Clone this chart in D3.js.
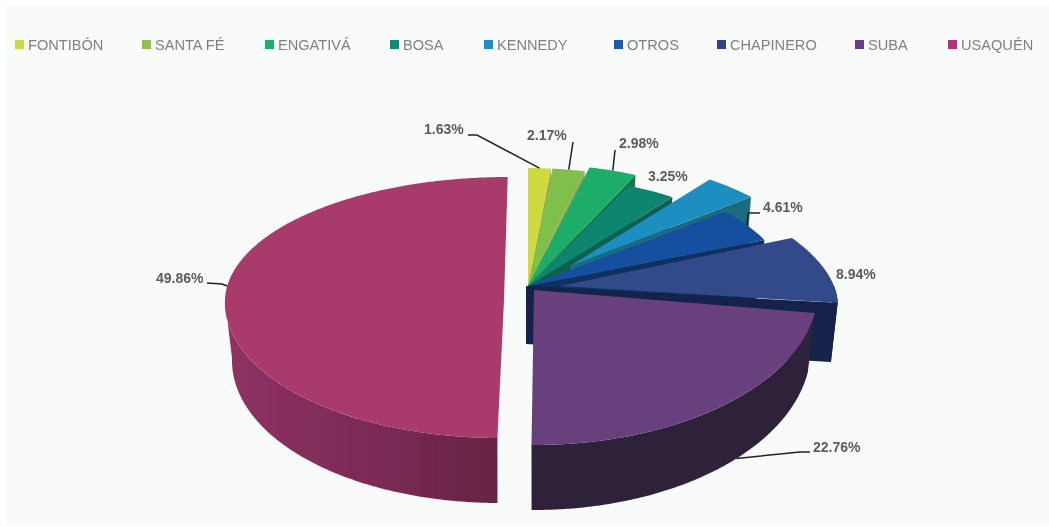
<!DOCTYPE html>
<html>
<head>
<meta charset="utf-8">
<script src="https://cdn.jsdelivr.net/npm/d3@7"></script>
<style>
html, body { margin: 0; padding: 0; background: #fff; }
svg { display: block; }
</style>
</head>
<body>
<svg id="plot" width="1049" height="527"></svg>
<script>
// data (kennedy has no label, it is what is left of 100)
var categories = ['FONTIBÓN', 'SANTA FÉ', 'ENGATIVÁ', 'BOSA', 'KENNEDY', 'OTROS', 'CHAPINERO', 'SUBA', 'USAQUÉN'];
var shares = [1.63, 2.17, 2.98, 3.25, 3.80, 4.61, 8.94, 22.76, 49.86];
var labelled = [true, true, true, true, false, true, true, true, true];

var topColors = ['#cfd93f', '#7fc04b', '#1fae68', '#0f8570', '#1b8fc0', '#174f9f', '#33488a', '#67417d', '#a83a6c'];
var wallColors = ['#a8a040', '#a09a50', '#15754a', '#0b5f50', '#1a6a80', '#10305f', '#13244a', '#2e203a', 'url(#wallGrad)'];
var legendColors = ['#c8d84a', '#8cc24c', '#1fb06c', '#0e8a7a', '#1a8ec8', '#1a5cb0', '#2f4388', '#6a3d8f', '#b5307c'];

// every wedge is pulled out and squeezed on its own in the picture
// cx, cy = apex, rx, back/front = vertical radius behind and in front of the apex
var wedges = [
  {cx: 528, cy: 286, rx: 225, back: 118, front: 118, lean: 0},
  {cx: 528, cy: 286, rx: 240, back: 118, front: 118, lean: 0},
  {cx: 528, cy: 286, rx: 260, back: 122, front: 122, lean: 0},
  {cx: 528, cy: 286, rx: 245, back: 110, front: 110, lean: 0},
  {cx: 570, cy: 266, rx: 237, back: 107, front: 107, lean: 0},
  {cx: 528, cy: 286, rx: 258, back: 115, front: 115, lean: 0},
  {cx: 560, cy: 286, rx: 274, back: 120, front: 113, lean: -0.4},
  {cx: 534, cy: 290, rx: 284, back: 120, front: 155, lean: 0},
  {cx: 504, cy: 300, rx: 279, back: 123, front: 138, lean: 0.03}
];

var svg = d3.select('#plot');

// blurred like the scanned source
var defs = svg.append('defs');
defs.append('filter').attr('id', 'soft')
  .attr('x', '-5%').attr('y', '-5%').attr('width', '110%').attr('height', '110%')
  .append('feGaussianBlur').attr('stdDeviation', 0.6);
var wallGrad = defs.append('linearGradient').attr('id', 'wallGrad')
  .attr('gradientUnits', 'userSpaceOnUse')
  .attr('x1', 230).attr('x2', 500).attr('y1', 0).attr('y2', 0);
wallGrad.append('stop').attr('offset', '0%').attr('stop-color', '#8e3163');
wallGrad.append('stop').attr('offset', '50%').attr('stop-color', '#7d2b56');
wallGrad.append('stop').attr('offset', '100%').attr('stop-color', '#652444');

svg.append('rect').attr('x', 6).attr('y', 6).attr('width', 1043).attr('height', 520).attr('fill', '#f9fafa');

var color = d3.scaleOrdinal().domain(categories).range(topColors);
var wallColor = d3.scaleOrdinal().domain(categories).range(wallColors);
var legendColor = d3.scaleOrdinal().domain(categories).range(legendColors);

var pie = d3.pie().sort(null).value(function(d) { return d; });
var arcs = pie(shares);

// angle -> point on the rim, top or lower face
var SHRINK = 0.975;
function rim(w, a, lower) {
  var c = Math.cos(a), s = Math.sin(a);
  var dy = c > 0 ? -c * w.back : -c * w.front;
  var dx = s * w.rx;
  if (lower) {
    return [w.cx + dx * SHRINK - w.lean * dy, w.cy + dy + depth(a)];
  }
  return [w.cx + dx - w.lean * dy, w.cy + dy];
}
function depth(a) {
  return 58 + 7 * Math.max(0, -Math.cos(a));
}
function samples(a0, a1) {
  var n = Math.max(2, Math.ceil((a1 - a0) / 0.01));
  return d3.range(n + 1).map(function(i) { return a0 + (a1 - a0) * i / n; });
}
var line = d3.line();

var pieG = svg.append('g').attr('filter', 'url(#soft)');

arcs.forEach(function(d, i) {
  var w = wedges[i], name = categories[i];
  var a0 = d.startAngle, a1 = d.endAngle;
  var g = pieG.append('g').attr('class', 'wedge');
  // cut face at the end of the wedge, only the ones on the right show it
  if (a1 < Math.PI) {
    var t = rim(w, a1), b = rim(w, a1, true);
    var foot = i == 6 ? 526 : w.cx; // chapinero's face runs back to the common apex
    g.append('path')
      .attr('d', line([[foot, w.cy], t, b, [foot, w.cy + depth(Math.PI / 2)]]) + 'Z')
      .attr('fill', wallColor(name));
  }
  // outer wall, front half of the rim
  var from = Math.max(a0, Math.PI / 2), to = Math.min(a1, 3 * Math.PI / 2);
  if (to > from) {
    var angles = samples(from, to);
    var wall = angles.map(function(a) { return rim(w, a); })
      .concat(angles.slice().reverse().map(function(a) { return rim(w, a, true); }));
    g.append('path').attr('d', line(wall) + 'Z').attr('fill', wallColor(name));
  }
  var topFace = [[w.cx, w.cy]].concat(samples(a0, a1).map(function(a) { return rim(w, a); }));
  g.append('path').attr('d', line(topFace) + 'Z').attr('fill', color(name));
});

// value labels: text position, elbow of the leader, where along the wedge it lands
var labelPos = [
  {x: 424, y: 134, elbow: [[468, 135], [477, 135]], at: 0.5},
  {x: 527, y: 140, elbow: [[573, 142]], at: 0.5},
  {x: 619, y: 148, elbow: [[615, 150]], at: 0.5},
  {x: 648, y: 181, elbow: null},
  null,
  {x: 763, y: 212, elbow: [[760, 213], [748, 213]], at: 0.5},
  {x: 836, y: 279, elbow: null},
  {x: 813, y: 452, elbow: [[810, 452], [800, 452]], at: 0.42, lower: true},
  {x: 156, y: 283, elbow: [[207, 283], [222, 284]], at: 0.535}
];

var labelG = svg.append('g').attr('filter', 'url(#soft)');
arcs.forEach(function(d, i) {
  if (!labelled[i]) return;
  var pos = labelPos[i];
  if (pos.elbow) {
    var end = rim(wedges[i], d.startAngle + (d.endAngle - d.startAngle) * pos.at, pos.lower);
    labelG.append('path')
      .attr('d', line(pos.elbow.concat([end])))
      .attr('fill', 'none')
      .attr('stroke', '#222')
      .attr('stroke-width', 1.5);
  }
  labelG.append('text')
    .attr('x', pos.x).attr('y', pos.y)
    .style('font-family', '"Liberation Sans", Arial, sans-serif')
    .style('font-size', '14px')
    .style('font-weight', 'bold')
    .style('fill', '#5c5c5c')
    .text(shares[i].toFixed(2) + '%');
});

// legend
var legendX = [15, 142, 265, 390, 484, 614, 717, 855, 948];
var legendG = svg.append('g').attr('filter', 'url(#soft)');
var items = legendG.selectAll('g').data(categories).enter().append('g')
  .attr('transform', function(d, i) { return 'translate(' + legendX[i] + ',40)'; });
items.append('rect')
  .attr('width', 9).attr('height', 9)
  .attr('fill', function(d) { return legendColor(d); });
items.append('text')
  .attr('x', 13).attr('y', 10)
  .style('font-family', '"Liberation Sans", Arial, sans-serif')
  .style('font-size', '14.6px')
  .style('fill', '#808080')
  .text(function(d) { return d; });
</script>
</body>
</html>
